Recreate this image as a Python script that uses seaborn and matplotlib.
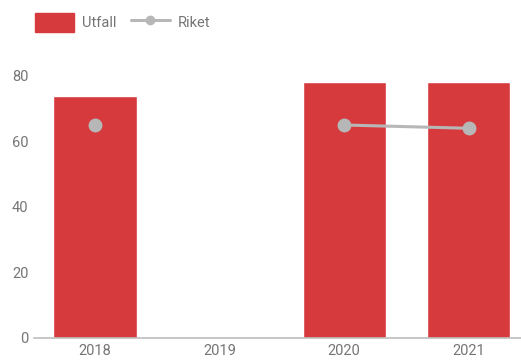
import numpy as np
import pandas as pd
import matplotlib
matplotlib.use("Agg")
import matplotlib.pyplot as plt
import seaborn as sns

years = ["2018", "2019", "2020", "2021"]
utfall = [74, np.nan, 78, 78]
riket = [65, np.nan, 65, 64]

data = pd.DataFrame({"År": years, "Utfall": utfall})

sns.set_style("white")
plt.rcParams["font.family"] = ["Roboto", "DejaVu Sans"]

red = "#D63A3D"
grey = "#B7B7B7"
txt = "#757575"

fig = plt.figure(figsize=(5.21, 3.63), dpi=100)
ax = fig.add_axes([0.065, 0.069, 0.945, 0.722])

sns.barplot(data=data, x="År", y="Utfall", color=red, saturation=1,
            width=0.667, ax=ax)
ax.plot(np.arange(len(years)), riket, color=grey, lw=2.2, marker="o",
        markersize=9)

ax.set_ylim(0, 80)
ax.set_xlim(-0.49, 3.46)
ax.set_yticks([0, 20, 40, 60, 80])
ax.set_xlabel("")
ax.set_ylabel("")
ax.tick_params(axis="both", length=0, labelsize=10.5, labelcolor=txt, pad=4)
for s in ["top", "right", "left"]:
    ax.spines[s].set_visible(False)
ax.spines["bottom"].set_color("#BDBDBD")
ax.spines["bottom"].set_linewidth(1.2)

h_bar = plt.Rectangle((0, 0), 1, 1, color=red)
h_line = plt.Line2D([], [], color=grey, lw=2.2, marker="o", markersize=6)
fig.legend([h_bar, h_line], ["Utfall", "Riket"], loc="upper left",
           bbox_to_anchor=(0.042, 1.0), ncol=2, frameon=False,
           fontsize=10.5, labelcolor=txt, handlelength=2.7, handleheight=1.6,
           columnspacing=1.0, handletextpad=0.5)

fig.savefig("out.png", dpi=100)
